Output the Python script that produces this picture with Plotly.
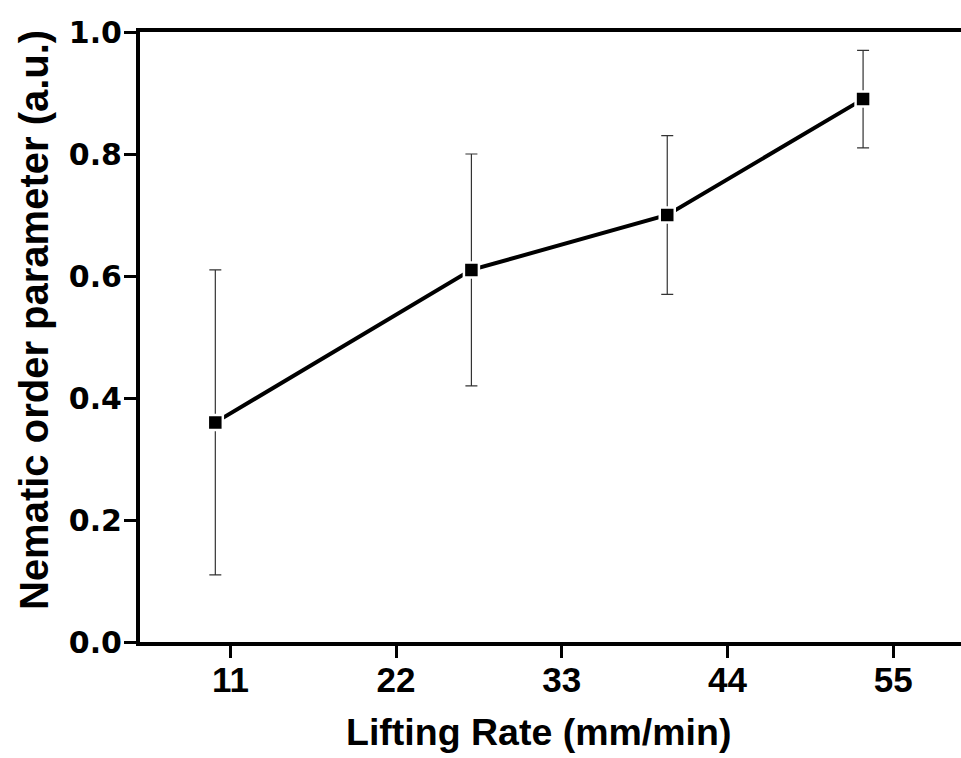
import plotly.graph_objects as go

lifting_rate = [10, 27, 40, 53]
order_param = [0.36, 0.61, 0.70, 0.89]
order_err = [0.25, 0.19, 0.13, 0.08]
x_ticks = [11, 22, 33, 44, 55]
y_ticks = [0.0, 0.2, 0.4, 0.6, 0.8, 1.0]
y_tick_text = ["0.0", "0.2", "0.4", "0.6", "0.8", "1.0"]

fig = go.Figure()
fig.add_trace(go.Scatter(
    x=lifting_rate, y=order_param,
    mode="lines+markers",
    line=dict(color="black", width=4),
    marker=dict(symbol="square", size=15, color="black",
                line=dict(color="white", width=2.5)),
    error_y=dict(type="data", array=order_err, visible=True,
                 color="#333333", thickness=1.2, width=6),
    showlegend=False,
))

fig.update_layout(
    width=961, height=758,
    margin=dict(l=140, r=0, t=32, b=116),
    paper_bgcolor="white", plot_bgcolor="white",
    xaxis=dict(range=[5, 59.5], tickvals=x_ticks, ticktext=[str(v) for v in x_ticks],
               showgrid=False, zeroline=False,
               showline=True, linecolor="black", linewidth=4, mirror=True,
               ticks="outside", ticklen=12, tickwidth=2.5, tickcolor="black",
               ticklabelstandoff=-8,
               tickfont=dict(family="Liberation Sans, Arial, sans-serif", size=35, color="black", weight="bold")),
    yaxis=dict(range=[0, 1], tickvals=y_ticks, ticktext=y_tick_text,
               showgrid=False, zeroline=False,
               showline=True, linecolor="black", linewidth=4, mirror=False,
               ticks="outside", ticklen=12, tickwidth=2.5, tickcolor="black",
               ticklabelstandoff=-4,
               tickfont=dict(family="DejaVu Sans, sans-serif", size=30, color="black", weight="bold")),
    annotations=[
        dict(text="<b>Lifting Rate (mm/min)</b>", xref="paper", yref="paper",
             x=0.4854, y=-0.1475, xanchor="center", yanchor="middle", showarrow=False,
             font=dict(family="Liberation Sans, Arial, sans-serif", size=37.5, color="black")),
        dict(text="<b>Nematic order parameter (a.u.)</b>", xref="paper", yref="paper",
             x=-0.129, y=0.528, xanchor="center", yanchor="middle", showarrow=False,
             textangle=-90,
             font=dict(family="Liberation Sans, Arial, sans-serif", size=40, color="black")),
    ],
)

fig.write_html(
    "out.html",
    config={"displayModeBar": False},
    post_script="document.body.style.margin='0';document.body.style.overflow='hidden';"
                "document.documentElement.style.overflow='hidden';",
)
